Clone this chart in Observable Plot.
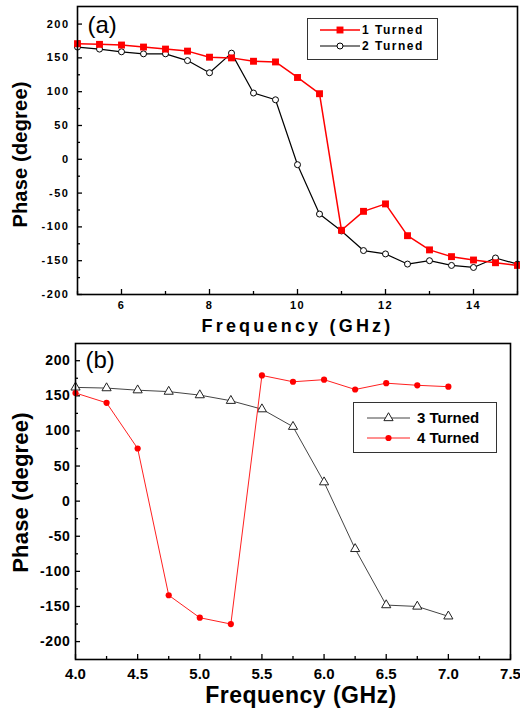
<!DOCTYPE html>
<html><head><meta charset="utf-8">
<script src="https://cdn.jsdelivr.net/npm/d3@7"></script>
<script src="https://cdn.jsdelivr.net/npm/@observablehq/plot@0.6"></script>
<style>
body{margin:0;background:#fff;}
#wrap{position:relative;width:520px;height:711px;font-family:"Liberation Sans",Arial,sans-serif;overflow:hidden;}
.panel{position:absolute;left:0;}
.pa [aria-label="x-axis tick label"], .pa [aria-label="y-axis tick label"]{letter-spacing:1.5px;}
.pb [aria-label="y-axis tick label"]{letter-spacing:0.6px;}
.pb [aria-label="x-axis tick label"]{letter-spacing:0px;}
.pa [aria-description="xtitle"]{letter-spacing:3.2px;}
.pa [aria-description="ytitle"]{letter-spacing:0.2px;}
.pb [aria-description="xtitle"]{letter-spacing:0.5px;}
.pb [aria-description="ytitle"]{letter-spacing:0.2px;}
.legend{position:absolute;}
</style></head><body><div id="wrap"></div>
<script>
// ---------- data ----------
const freqA = [5,5.5,6,6.5,7,7.5,8,8.5,9,9.5,10,10.5,11,11.5,12,12.5,13,13.5,14,14.5,15];
const turned1 = [171,170,169,166,163,160,151,150,145,144,121,97,-105,-77,-66,-113,-134,-144,-149,-153,-157];
const turned2 = [166,163,159,156,156,146,128,157,98,88,-8,-81,-106,-135,-140,-155,-150,-157,-160,-146,-155];
const freqB = [4,4.25,4.5,4.75,5,5.25,5.5,5.75,6,6.25,6.5,6.75,7];
const turned3 = [162,161,158,156,151,143,131,106,27,-68,-148,-150,-164];
const turned4 = [154,140,75,-134,-166,-175,179,170,173,159,168,165,163];

const xTicksA = [6,8,10,12,14];
const xMinorA = [5,7,9,11,13,15];
const yTicks = [-200,-150,-100,-50,0,50,100,150,200];
const yMinor = [-175,-125,-75,-25,25,75,125,175];
const xTicksB = [4.0,4.5,5.0,5.5,6.0,6.5,7.0,7.5];
const xMinorB = [4.25,4.75,5.25,5.75,6.25,6.75,7.25];

const labelsA = ["1 Turned","2 Turned"];
const labelsB = ["3 Turned","4 Turned"];
const xTitle = "Frequency (GHz)";
const yTitle = "Phase (degree)";

const FONT = '"Liberation Sans", Arial, sans-serif';
const wrap = document.getElementById("wrap");

function ticksMarks(xMaj, xMin, frameW, frameH) {
  return [
    Plot.tickX(xMaj, {x: d => d, insetTop: frameH - 5, stroke: "#000", strokeWidth: 1.3}),
    Plot.tickX(xMin, {x: d => d, insetTop: frameH - 3, stroke: "#000", strokeWidth: 1.3}),
    Plot.tickY(yTicks, {y: d => d, insetRight: frameW - 5, stroke: "#000", strokeWidth: 1.3}),
    Plot.tickY(yMinor, {y: d => d, insetRight: frameW - 3, stroke: "#000", strokeWidth: 1.3})
  ];
}

// ---------- panel (a) ----------
const A1 = freqA.map((f, i) => ({f, p: turned1[i]}));
const A2 = freqA.map((f, i) => ({f, p: turned2[i]}));
const plotA = Plot.plot({
  width: 520, height: 340, marginTop: 6, marginBottom: 46, marginLeft: 77, marginRight: 3,
  className: "pa",
  style: {fontFamily: FONT, background: "transparent", overflow: "visible", color: "#000"},
  x: {domain: [5, 15]},
  y: {domain: [-200, 226]},
  marks: [
    Plot.axisX({ticks: xTicksA, tickSize: 0, tickPadding: 7, tickFormat: d => String(d), fontSize: 11, fontWeight: "bold", label: null}),
    Plot.axisY({ticks: yTicks, tickSize: 0, tickPadding: 8, tickFormat: d => String(d), fontSize: 11, fontWeight: "bold", label: null}),
    ...ticksMarks(xTicksA, xMinorA, 440, 288),
    Plot.line(A2, {x: "f", y: "p", stroke: "#000", strokeWidth: 1.2}),
    Plot.dot(A2, {x: "f", y: "p", r: 3, fill: "#fff", stroke: "#000", strokeWidth: 1}),
    Plot.line(A1, {x: "f", y: "p", stroke: "#ff0000", strokeWidth: 1.5}),
    Plot.dot(A1, {x: "f", y: "p", symbol: "square", r: 3.9, fill: "#ff0000", stroke: "none"}),
    Plot.frame({stroke: "#000", strokeWidth: 1.6}),
    Plot.text(["(a)"], {frameAnchor: "top-left", dx: 10, dy: 19, textAnchor: "start", lineAnchor: "middle", fontSize: 24, fill: "#000"}),
    Plot.text([xTitle], {frameAnchor: "bottom", dy: 32, textAnchor: "middle", lineAnchor: "middle", fontSize: 18, fontWeight: "bold", fill: "#000", ariaDescription: "xtitle"}),
    Plot.text([yTitle], {frameAnchor: "left", dx: -57, dy: 4, rotate: -90, textAnchor: "middle", lineAnchor: "middle", fontSize: 20, fontWeight: "bold", fill: "#000", ariaDescription: "ytitle"})
  ]
});
plotA.classList.add("panel");
plotA.style.top = "0px";
wrap.appendChild(plotA);

// ---------- panel (b) ----------
const B3 = freqB.map((f, i) => ({f, p: turned3[i]}));
const B4 = freqB.map((f, i) => ({f, p: turned4[i]}));
const plotB = Plot.plot({
  width: 520, height: 371, marginTop: 3, marginBottom: 52, marginLeft: 75, marginRight: 10,
  className: "pb",
  style: {fontFamily: FONT, background: "transparent", overflow: "visible", color: "#000"},
  x: {domain: [4, 7.5]},
  y: {domain: [-225.5, 224.5]},
  marks: [
    Plot.axisX({ticks: xTicksB, tickSize: 0, tickPadding: 9, tickFormat: d3.format(".1f"), fontSize: 15, fontWeight: "bold", label: null}),
    Plot.axisY({ticks: yTicks, tickSize: 0, tickPadding: 5, tickFormat: d => String(d), fontSize: 14, fontWeight: "bold", label: null}),
    ...ticksMarks(xTicksB, xMinorB, 435, 316),
    Plot.line(B3, {x: "f", y: "p", stroke: "#444", strokeWidth: 1}),
    Plot.dot(B3, {x: "f", y: "p", symbol: "triangle", r: 3.4, fill: "#fff", stroke: "#222", strokeWidth: 1}),
    Plot.line(B4, {x: "f", y: "p", stroke: "#ff2020", strokeWidth: 1}),
    Plot.dot(B4, {x: "f", y: "p", r: 3.1, fill: "#ff0000", stroke: "none"}),
    Plot.frame({stroke: "#000", strokeWidth: 1.6}),
    Plot.text(["(b)"], {frameAnchor: "top-left", dx: 10, dy: 17, textAnchor: "start", lineAnchor: "middle", fontSize: 24, fill: "#000"}),
    Plot.text([xTitle], {frameAnchor: "bottom", dx: 8, dy: 36, textAnchor: "middle", lineAnchor: "middle", fontSize: 23, fontWeight: "bold", fill: "#000", ariaDescription: "xtitle"}),
    Plot.text([yTitle], {frameAnchor: "left", dx: -55, dy: -9, rotate: -90, textAnchor: "middle", lineAnchor: "middle", fontSize: 22, fontWeight: "bold", fill: "#000", ariaDescription: "ytitle"})
  ]
});
plotB.classList.add("panel");
plotB.style.top = "340px";
wrap.appendChild(plotB);

// ---------- legends ----------
function legend(box, rows) {
  const svg = d3.create("svg")
    .attr("class", "legend")
    .attr("width", box.w).attr("height", box.h)
    .style("left", box.x + "px").style("top", box.y + "px")
    .style("font-family", FONT);
  svg.append("rect").attr("x", 0.5).attr("y", 0.5).attr("width", box.w - 1).attr("height", box.h - 1)
    .attr("fill", "#fff").attr("stroke", "#333").attr("stroke-width", 1);
  rows.forEach(r => {
    svg.append("line").attr("x1", r.lx1).attr("x2", r.lx2).attr("y1", r.y).attr("y2", r.y)
      .attr("stroke", r.lineColor).attr("stroke-width", r.lw);
    svg.append("path").attr("d", d3.symbol(r.symbol, Math.PI * r.r * r.r)())
      .attr("transform", `translate(${(r.lx1 + r.lx2) / 2},${r.y})`)
      .attr("fill", r.fill).attr("stroke", r.stroke).attr("stroke-width", 1);
    svg.append("text").attr("x", r.tx).attr("y", r.y).attr("dy", "0.35em")
      .attr("font-size", r.fs).attr("font-weight", "bold").style("letter-spacing", r.ls + "px")
      .text(r.label);
  });
  wrap.appendChild(svg.node());
}
legend({x: 307, y: 18, w: 131, h: 42}, [
  {label: labelsA[0], y: 12, lx1: 13, lx2: 53, tx: 55, lineColor: "#ff0000", lw: 1.5, symbol: d3.symbolSquare, r: 3.9, fill: "#ff0000", stroke: "none", fs: 12, ls: 1.5},
  {label: labelsA[1], y: 28, lx1: 13, lx2: 53, tx: 55, lineColor: "#000", lw: 1.2, symbol: d3.symbolCircle, r: 3, fill: "#fff", stroke: "#000", fs: 12, ls: 1.5}
]);
legend({x: 353, y: 402, w: 144, h: 51}, [
  {label: labelsB[0], y: 16, lx1: 14, lx2: 57, tx: 64, lineColor: "#444", lw: 1, symbol: d3.symbolTriangle, r: 3.4, fill: "#fff", stroke: "#222", fs: 15, ls: 0},
  {label: labelsB[1], y: 36, lx1: 14, lx2: 57, tx: 64, lineColor: "#ff2020", lw: 1, symbol: d3.symbolCircle, r: 3.1, fill: "#ff0000", stroke: "none", fs: 15, ls: 0}
]);
</script>
</body></html>
